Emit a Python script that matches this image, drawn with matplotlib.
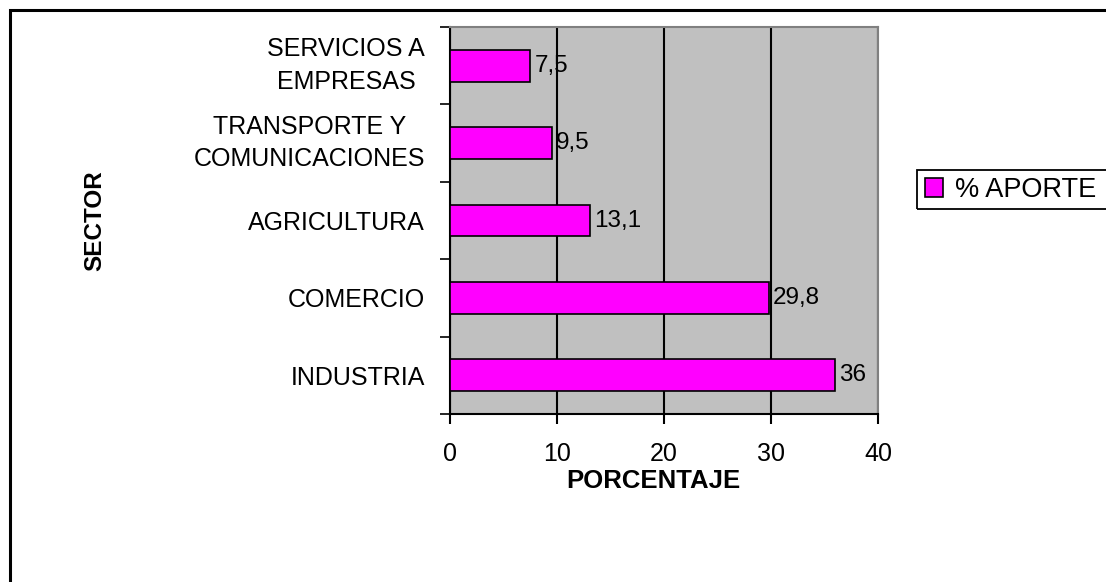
import matplotlib
matplotlib.use("Agg")
from matplotlib import pyplot as plt
from matplotlib.patches import Rectangle

sectors = [
    "INDUSTRIA",
    "COMERCIO",
    "AGRICULTURA",
    "TRANSPORTE Y\nCOMUNICACIONES",
    "SERVICIOS A\nEMPRESAS",
]
aporte = [36, 29.8, 13.1, 9.5, 7.5]
value_labels = ["36", "29,8", "13,1", "9,5", "7,5"]
x_ticks = [0, 10, 20, 30, 40]

plt.rcParams["font.family"] = ["Liberation Sans", "DejaVu Sans"]

W, H = 1106, 582
fig = plt.figure(figsize=(W / 100, H / 100), dpi=100)
ax = fig.add_axes([450 / W, 1 - 414 / H, 428 / W, 387 / H])
ax.set_facecolor("#c0c0c0")

pos = list(range(len(sectors)))
bars = ax.barh(pos, aporte, height=0.41, color="#ff00ff", edgecolor="black",
               linewidth=1.2, label="% APORTE", zorder=3)

for b, txt in zip(bars, value_labels):
    ax.text(b.get_width() + 0.4, b.get_y() + b.get_height() / 2, txt,
            va="center", ha="left", fontsize=17.5, zorder=4)

ax.set_xlim(0, 40)
ax.set_ylim(-0.5, len(sectors) - 0.5)
ax.set_xticks(x_ticks)
ax.set_yticks(pos)
ax.set_yticklabels(sectors, fontsize=18, multialignment="center",
                   linespacing=1.45)
for lbl in ax.get_yticklabels():
    if "\n" in lbl.get_text():
        lbl.set_va("center")
ax.set_yticks([p - 0.5 for p in range(len(sectors) + 1)], minor=True)
ax.tick_params(axis="y", which="major", length=0, pad=18)
ax.tick_params(axis="y", which="minor", length=7, width=1.2, direction="out")
ax.tick_params(axis="x", labelsize=18, length=7, width=1.5, pad=13)

ax.grid(axis="x", color="black", linewidth=1.5, zorder=1)
ax.set_axisbelow(True)

for side in ["left", "bottom"]:
    ax.spines[side].set_color("black")
    ax.spines[side].set_linewidth(1.5)
for side in ["top", "right"]:
    ax.spines[side].set_color("#808080")
    ax.spines[side].set_linewidth(1.5)

ax.set_xlabel("PORCENTAJE", fontsize=18.5, fontweight="bold")
ax.xaxis.set_label_coords((653 - 450) / 428, (414 - 469) / 387)
ax.set_ylabel("SECTOR", fontsize=17.5, fontweight="bold")
ax.yaxis.set_label_coords((106 - 450) / 428, 0.5)

# legend text + handle, frame drawn separately (it runs off the right edge)
leg = fig.legend(loc="center left", bbox_to_anchor=(925 / W, 1 - 190 / H),
                 fontsize=19.5, frameon=False, borderpad=0,
                 handlelength=0.65, handleheight=0.65, handletextpad=0.45,
                 borderaxespad=0)
fig.patches.append(Rectangle((917 / W, 1 - 209 / H), 0.2, 39 / H,
                             transform=fig.transFigure, fill=False,
                             edgecolor="black", linewidth=1.3))

# chart border (right and bottom edges run off the image)
fig.patches.append(Rectangle((10 / W, -0.1), 1.2, 1 - 10 / H + 0.1,
                             transform=fig.transFigure, fill=False,
                             edgecolor="black", linewidth=2.2))

fig.savefig("out.png", dpi=100)
